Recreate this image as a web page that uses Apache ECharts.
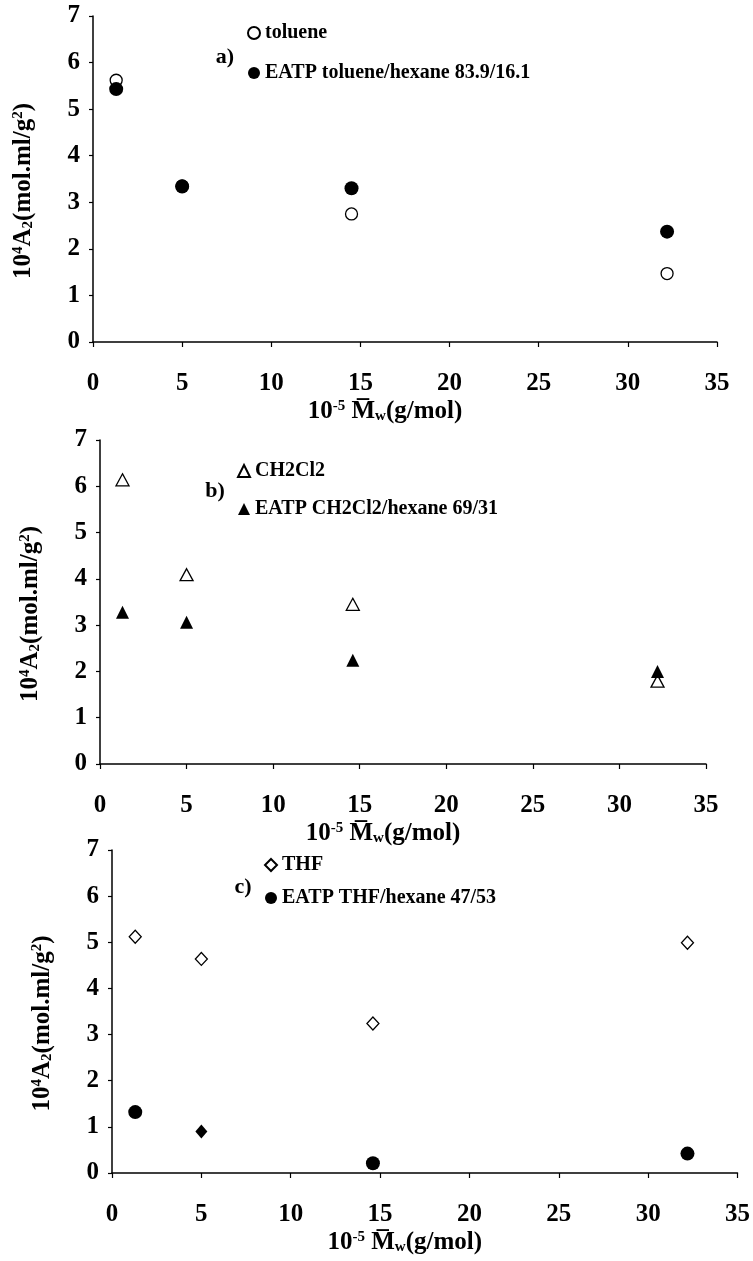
<!DOCTYPE html>
<html>
<head>
<meta charset="utf-8">
<script src="https://cdn.jsdelivr.net/npm/echarts@6/dist/echarts.min.js"></script>
<style>
html,body{margin:0;padding:0;background:#fff;}
#c{width:753px;height:1261px;}
</style>
</head>
<body>
<div id="c"></div>
<script>
// ---- data ----
const xTicks = [0, 5, 10, 15, 20, 25, 30, 35];
const yTicks = [0, 1, 2, 3, 4, 5, 6, 7];

const xA = [1.3, 5.0, 14.5, 32.2];
const tolueneA = [5.62, 3.35, 2.75, 1.47];
const eatpTolueneA = [5.43, 3.34, 3.30, 2.37];

const xB = [1.3, 5.0, 14.6, 32.2];
const ch2cl2B = [6.14, 4.09, 3.45, 1.79];
const eatpCh2cl2B = [3.28, 3.06, 2.24, 2.00];

const xC = [1.3, 5.0, 14.6, 32.2];
const thfC = [5.12, 4.64, 3.24, 4.99];
const eatpThfC = [1.32, 0.90, 0.21, 0.42];

const namesA = ['toluene', 'EATP toluene/hexane 83.9/16.1'];
const namesB = ['CH2Cl2', 'EATP CH2Cl2/hexane 69/31'];
const namesC = ['THF', 'EATP THF/hexane 47/53'];
const panelLabels = ['a)', 'b)', 'c)'];

// ---- chart ----
const FONT = "'Liberation Serif','Times New Roman',serif";
const chart = echarts.init(document.getElementById('c'), null, {renderer: 'canvas'});
const pair = (xs, ys) => xs.map((x, i) => [x, ys[i]]);

const grids = [
  {left: 93, top: 16, width: 624, height: 326},
  {left: 100, top: 440, width: 606, height: 324},
  {left: 112, top: 850, width: 627, height: 323}
];

const rich = {
  b: {fontFamily: FONT, fontWeight: 'bold', fontSize: 25, color: '#000'},
  sup: {fontFamily: FONT, fontWeight: 'bold', fontSize: 15, color: '#000', padding: [0, 0, 11, 0]},
  sub: {fontFamily: FONT, fontWeight: 'bold', fontSize: 15, color: '#000', padding: [9, 0, 0, 0]}
};

function xAxis(gi) {
  return {
    type: 'value', gridIndex: gi, min: xTicks[0], max: xTicks[xTicks.length - 1], interval: 5,
    name: '{b|10}{sup|-5}{b| M\u0305}{sub|w}{b|(g/mol)}',
    nameLocation: 'middle', nameGap: 57,
    nameTextStyle: {rich: rich, padding: [0, 40, 0, 0]},
    axisLine: {show: true, onZero: false, lineStyle: {color: '#000', width: 1.5}},
    axisTick: {show: true, length: 5, lineStyle: {color: '#000', width: 1.2}},
    axisLabel: {color: '#000', fontFamily: FONT, fontWeight: 'bold', fontSize: 25, margin: 29,
      showMinLabel: true, showMaxLabel: true},
    splitLine: {show: false}
  };
}
function yAxis(gi) {
  return {
    type: 'value', gridIndex: gi, min: yTicks[0], max: yTicks[yTicks.length - 1], interval: 1,
    name: '{b|10}{sup|4}{b|A}{sub|2}{b|(mol.ml/g}{sup|2}{b|)}',
    nameLocation: 'middle', nameGap: 56, nameRotate: 90,
    nameTextStyle: {rich: rich, padding: [0, 24, 0, 0]},
    axisLine: {show: true, onZero: false, lineStyle: {color: '#000', width: 1.5}},
    axisTick: {show: true, length: 4, lineStyle: {color: '#000', width: 1.2}},
    axisLabel: {color: '#000', fontFamily: FONT, fontWeight: 'bold', fontSize: 25, margin: 13,
      showMinLabel: true, showMaxLabel: true},
    splitLine: {show: false}
  };
}

const openStyle = {color: '#fff', borderColor: '#000', borderWidth: 1.3, opacity: 1};
const fillStyle = {color: '#000', borderColor: '#000', borderWidth: 0, opacity: 1};

const series = [
  {name: namesA[0], type: 'scatter', xAxisIndex: 0, yAxisIndex: 0, symbol: 'circle', symbolSize: 12,
    itemStyle: openStyle, data: pair(xA, tolueneA), z: 2},
  {name: namesA[1], type: 'scatter', xAxisIndex: 0, yAxisIndex: 0, symbol: 'circle', symbolSize: 14,
    itemStyle: fillStyle, data: pair(xA, eatpTolueneA), z: 3},
  {name: namesB[0], type: 'scatter', xAxisIndex: 1, yAxisIndex: 1, symbol: 'triangle', symbolSize: [13, 12],
    itemStyle: openStyle, data: pair(xB, ch2cl2B), z: 2},
  {name: namesB[1], type: 'scatter', xAxisIndex: 1, yAxisIndex: 1, symbol: 'triangle', symbolSize: [13, 13],
    itemStyle: fillStyle, data: pair(xB, eatpCh2cl2B), z: 3},
  {name: namesC[0], type: 'scatter', xAxisIndex: 2, yAxisIndex: 2, symbol: 'diamond', symbolSize: [12, 13],
    itemStyle: openStyle, data: pair(xC, thfC), z: 2},
  {name: namesC[1], type: 'scatter', xAxisIndex: 2, yAxisIndex: 2, symbol: 'circle', symbolSize: 14,
    itemStyle: fillStyle, z: 3,
    data: pair(xC, eatpThfC).map((v, i) => i === 1 ? {value: v, symbol: 'diamond', symbolSize: [12, 14]} : v)}
];

function legend(names, left, top, gap) {
  return {
    data: names.map(n => ({name: n})), orient: 'vertical', left: left, top: top, padding: 0,
    itemWidth: 12, itemHeight: 12, itemGap: gap, selectedMode: false,
    textStyle: {fontFamily: FONT, fontWeight: 'bold', fontSize: 20, color: '#000', lineHeight: 20}
  };
}

const labelPos = [[225, 57], [215, 491], [243, 887]];

chart.setOption({
  backgroundColor: '#fff',
  animation: false,
  grid: grids,
  xAxis: [xAxis(0), xAxis(1), xAxis(2)],
  yAxis: [yAxis(0), yAxis(1), yAxis(2)],
  legend: [legend(namesA, 247, 23, 20), legend(namesB, 237, 461, 18), legend(namesC, 264, 855, 13)],
  series: series,
  graphic: panelLabels.map((t, i) => ({
    type: 'text', x: labelPos[i][0], y: labelPos[i][1],
    style: {text: t, fontFamily: FONT, fontWeight: 'bold', fontSize: 22, fill: '#000',
      textAlign: 'center', textVerticalAlign: 'middle'}
  }))
});
</script>
</body>
</html>
